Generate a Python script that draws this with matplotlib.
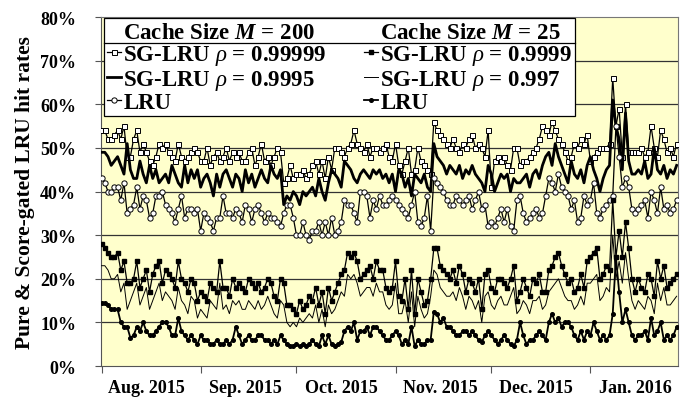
import numpy as np
import pandas as pd
import matplotlib
matplotlib.use('Agg')
import matplotlib.pyplot as plt
import matplotlib.dates as mdates
from matplotlib.lines import Line2D


START_DATE = '2015-08-01'

# Cache size M = 200 (values in %)
sg_200_99999 = [
    54, 54, 52, 52, 53, 54, 52, 55, 48, 48,
    52, 54, 49, 51, 49, 47, 46, 48, 51, 50,
    51, 49, 48, 47, 51, 48, 47, 48, 49, 50,
    49, 47, 47, 50, 46, 48, 49, 47, 48, 50,
    47, 49, 48, 49, 47, 47, 49, 50, 46, 48,
    51, 47, 48, 46, 48, 50, 49, 42, 43, 46,
    43, 44, 44, 45, 43, 44, 46, 47, 44, 47,
    43, 48, 45, 50, 50, 49, 48, 50, 51, 54,
    51, 50, 49, 51, 48, 50, 50, 49, 50, 51,
    48, 47, 51, 46, 44, 47, 50, 44, 45, 50,
    47, 46, 45, 44, 56, 54, 53, 52, 51, 50,
    52, 50, 49, 51, 50, 52, 53, 50, 51, 50,
    48, 54, 41, 47, 48, 47, 48, 46, 45, 50,
    50, 46, 47, 47, 48, 49, 50, 52, 55, 54,
    53, 56, 54, 52, 51, 49, 47, 48, 51, 50,
    52, 51, 53, 47, 48, 49, 50, 50, 50, 51,
    66, 55, 59, 48, 60, 49, 49, 49, 49, 50,
    48, 49, 55, 50, 48, 54, 52, 49, 50, 48, 51]
sg_200_9995 = [
    49, 49, 48, 46, 47, 48, 46, 44, 51, 45,
    43, 43, 47, 44, 42, 46, 43, 45, 42, 43,
    44, 42, 46, 44, 42, 41, 46, 42, 45, 43,
    45, 41, 43, 44, 42, 39, 44, 41, 44, 45,
    43, 41, 44, 43, 40, 45, 42, 44, 41, 43,
    45, 43, 42, 46, 44, 43, 45, 37, 39, 38,
    40, 39, 37, 40, 39, 40, 41, 39, 43, 40,
    38, 42, 45, 44, 43, 41, 47, 46, 45, 43,
    42, 44, 45, 44, 43, 45, 44, 45, 43, 44,
    42, 44, 40, 45, 44, 41, 43, 39, 44, 43,
    42, 44, 41, 40, 51, 48, 47, 46, 44, 46,
    45, 44, 46, 43, 45, 44, 46, 44, 43, 42,
    40, 46, 44, 40, 42, 44, 43, 44, 40, 43,
    42, 42, 43, 44, 41, 44, 45, 43, 46, 48,
    49, 46, 51, 48, 46, 44, 42, 47, 44, 43,
    45, 42, 46, 48, 45, 43, 40, 43, 45, 46,
    61, 55, 52, 45, 58, 47, 44, 44, 45, 44,
    47, 43, 44, 50, 45, 44, 46, 43, 45, 44, 46]
lru_200 = [
    43, 42, 40, 40, 41, 41, 38, 42, 35, 36,
    37, 41, 36, 39, 38, 34, 35, 39, 39, 40,
    37, 36, 35, 33, 36, 39, 34, 36, 36, 35,
    36, 31, 35, 34, 33, 31, 34, 34, 39, 35,
    35, 34, 36, 35, 33, 37, 36, 33, 36, 37,
    35, 33, 35, 34, 34, 33, 32, 35, 37, 37,
    34, 30, 30, 33, 30, 29, 31, 31, 33, 30,
    33, 30, 34, 30, 31, 33, 38, 37, 37, 35,
    33, 40, 40, 39, 34, 38, 36, 39, 37, 37,
    38, 39, 38, 37, 36, 35, 34, 37, 40, 33,
    32, 34, 39, 31, 43, 42, 41, 40, 38, 37,
    37, 39, 38, 37, 38, 39, 36, 38, 40, 36,
    37, 32, 33, 32, 34, 36, 33, 36, 32, 31,
    38, 39, 35, 33, 34, 35, 36, 34, 35, 39,
    43, 42, 40, 44, 41, 40, 39, 36, 38, 33,
    34, 39, 37, 38, 42, 35, 34, 36, 37, 38,
    39, 55, 48, 41, 43, 41, 36, 35, 36, 37,
    38, 34, 40, 38, 35, 41, 36, 37, 35, 36, 38]

# Cache size M = 25 (values in %)
sg_25_9999 = [
    28, 27, 26, 25, 25, 26, 22, 24, 19, 19,
    20, 24, 18, 20, 22, 17, 21, 23, 24, 19,
    22, 21, 20, 18, 24, 20, 19, 17, 20, 19,
    15, 17, 16, 15, 19, 18, 17, 24, 18, 18,
    16, 20, 18, 19, 18, 17, 20, 19, 18, 19,
    17, 18, 20, 19, 16, 15, 20, 19, 14, 14,
    13, 12, 15, 13, 14, 16, 15, 18, 14, 17,
    12, 18, 15, 17, 19, 21, 22, 26, 25, 26,
    24, 20, 21, 22, 23, 20, 24, 22, 22, 18,
    17, 18, 24, 16, 15, 20, 13, 22, 12, 20,
    17, 14, 15, 20, 27, 27, 23, 22, 21, 20,
    22, 19, 23, 21, 17, 20, 19, 17, 20, 13,
    21, 22, 18, 17, 20, 20, 19, 18, 20, 23,
    15, 17, 20, 18, 16, 20, 19, 21, 17, 17,
    22, 23, 25, 26, 23, 21, 19, 20, 17, 18,
    21, 18, 24, 25, 26, 27, 20, 21, 23, 22,
    38, 25, 31, 25, 33, 27, 20, 17, 20, 18,
    17, 21, 20, 16, 24, 20, 23, 18, 19, 20, 21]
sg_25_997 = [
    23, 23, 22, 20, 20, 21, 17, 19, 13, 15,
    17, 19, 14, 16, 18, 13, 15, 17, 19, 15,
    17, 16, 15, 13, 18, 15, 14, 12, 16, 15,
    11, 13, 12, 11, 15, 14, 13, 19, 13, 14,
    12, 15, 14, 15, 13, 13, 15, 14, 13, 15,
    13, 14, 16, 14, 12, 11, 15, 14, 10, 9,
    10, 9, 11, 10, 11, 12, 11, 14, 10, 13,
    9, 14, 12, 13, 15, 17, 16, 21, 20, 21,
    19, 16, 17, 18, 18, 16, 19, 17, 17, 14,
    13, 14, 19, 12, 12, 15, 10, 17, 9, 16,
    13, 11, 12, 16, 22, 21, 18, 17, 16, 16,
    17, 15, 18, 16, 13, 16, 15, 13, 15, 10,
    16, 17, 14, 13, 15, 16, 14, 14, 16, 18,
    12, 13, 15, 14, 12, 15, 15, 16, 13, 14,
    17, 18, 19, 20, 18, 16, 15, 15, 13, 14,
    16, 14, 19, 19, 20, 21, 15, 16, 18, 17,
    30, 20, 24, 19, 26, 20, 15, 13, 15, 14,
    13, 16, 15, 12, 19, 15, 18, 14, 14, 15, 16]
lru_25 = [
    14.5, 14.5, 14, 13, 13, 13, 10, 9, 9, 6.5,
    7, 9, 8, 10, 8, 7, 7, 8, 9, 10,
    10, 9, 7, 7, 11, 8, 7, 6, 7, 6,
    5, 7, 6, 6, 5, 5, 6, 5, 5, 6,
    5, 6, 9, 7, 5, 6, 7, 6, 6, 7,
    7, 6, 6, 5, 6, 5, 7, 6, 5, 4.5,
    4.5, 5, 4.5, 5, 4.5, 5, 6, 5, 4.5, 7,
    5, 7, 5, 4.5, 5, 5.5, 8, 9, 8, 10,
    6, 8, 8, 9, 7, 9, 9, 8, 7, 6,
    6, 7, 8, 7, 5, 6, 5, 9, 4.5, 6,
    5, 5, 6, 6, 12.5, 12, 10, 11, 9, 9,
    8, 7, 7, 8, 8, 7, 8, 7, 6, 5.5,
    7, 8, 7, 6, 5, 6, 7, 6, 5, 4.5,
    6, 10, 7, 5, 6, 6, 7, 8, 7, 6,
    10, 12, 10, 11, 9, 10, 10, 9, 7, 6,
    8, 6, 8, 7, 10, 8, 6, 7, 6, 7,
    12, 25, 17, 10, 13, 10, 7, 6, 7, 7,
    8, 6, 11, 7, 8, 10, 6, 7, 6, 7, 9]

plt.rcParams.update({'font.family': 'Liberation Serif',
                     'font.weight': 'bold',
                     'axes.labelweight': 'bold',
                     'mathtext.fontset': 'custom',
                     'mathtext.rm': 'Liberation Serif:bold',
                     'mathtext.it': 'Liberation Serif:italic:normal',
                     'mathtext.bf': 'Liberation Serif:bold',
                     'mathtext.bfit': 'Liberation Serif:italic:bold'})

dates = pd.date_range(START_DATE, periods=len(sg_200_99999), freq='D')

fig = plt.figure(figsize=(6.83, 4.02), dpi=100)
ax = fig.add_axes([0.148, 0.087, 0.845, 0.868])
ax.set_facecolor('#FFFFCC')

for y in range(10, 80, 10):
    ax.axhline(y, color='#333333', lw=0.9, zorder=1)

ax.plot(dates, sg_200_99999, color='black', lw=0.9, marker='s', ms=3.6,
        mfc='white', mec='black', mew=0.7, zorder=3)
ax.plot(dates, sg_200_9995, color='black', lw=2.0, zorder=3)
ax.plot(dates, lru_200, color='black', lw=0.9, marker='o', ms=3.8,
        mfc='white', mec='black', mew=0.7, zorder=3)
ax.plot(dates, sg_25_9999, color='black', lw=0.9, marker='s', ms=3.4,
        zorder=3)
ax.plot(dates, sg_25_997, color='black', lw=0.7, zorder=3)
ax.plot(dates, lru_25, color='black', lw=1.3, marker='o', ms=2.6,
        zorder=3)

ax.set_ylim(0, 80)
ax.set_yticks(range(0, 81, 10))
ax.set_yticklabels([f'{v}%' for v in range(0, 81, 10)])
ax.set_xlim(dates[0] - pd.Timedelta(hours=4), dates[-1] + pd.Timedelta(hours=12))

ax.xaxis.set_major_locator(mdates.MonthLocator())
ax.xaxis.set_major_formatter(plt.NullFormatter())
ax.xaxis.set_minor_locator(mdates.MonthLocator(bymonthday=15))
ax.xaxis.set_minor_formatter(mdates.DateFormatter('%b. %Y'))
ax.tick_params(axis='x', which='major', length=5, color='#555555', direction='out')
ax.tick_params(axis='x', which='minor', length=0, labelsize=13, pad=9)
ax.tick_params(axis='y', length=4, color='#555555', labelsize=13, pad=14)
for s in ax.spines.values():
    s.set_color('#777777')
ax.spines['left'].set_color('#555555')
ax.spines['bottom'].set_color('#555555')

ax.set_ylabel('Pure & Score-gated LRU hit rates', fontsize=15.5, labelpad=4)

blank = Line2D([], [], color='none')
handles = [
    blank,
    Line2D([], [], color='black', lw=0.9, marker='s', ms=3.6, mfc='white', mew=0.7),
    Line2D([], [], color='black', lw=2.0),
    Line2D([], [], color='black', lw=0.9, marker='o', ms=3.8, mfc='white', mew=0.7),
    blank,
    Line2D([], [], color='black', lw=0.9, marker='s', ms=3.4),
    Line2D([], [], color='black', lw=0.7),
    Line2D([], [], color='black', lw=1.3, marker='o', ms=2.6),
]
labels = [
    r'Cache Size $\mathbfit{M}$ = 200',
    r'SG-LRU $\rho$ = 0.99999',
    r'SG-LRU $\rho$ = 0.9995',
    'LRU',
    r'Cache Size $\mathbfit{M}$ = 25',
    r'SG-LRU $\rho$ = 0.9999',
    r'SG-LRU $\rho$ = 0.997',
    'LRU',
]
leg = ax.legend(handles, labels, ncol=2, loc='upper left', mode='expand',
                bbox_to_anchor=(0.005, 0.0, 0.817, 0.997), fontsize=16.5,
                frameon=True, fancybox=False, edgecolor='black', framealpha=1,
                handlelength=0.6, handletextpad=0.1, columnspacing=0.6,
                labelspacing=0.02, borderpad=0.15, borderaxespad=0.0)
leg.get_frame().set_linewidth(0.9)
leg.set_zorder(5)

# divider line under the header row of the legend
fig.canvas.draw()
inv = ax.transAxes.inverted()
frame_bb = leg.get_frame().get_window_extent()
head_bb = leg.get_texts()[0].get_window_extent()
row_bb = leg.get_texts()[1].get_window_extent()
y_line = (head_bb.y0 + row_bb.y1) / 2
x0, y0 = inv.transform((frame_bb.x0, y_line))
x1, _ = inv.transform((frame_bb.x1, y_line))
ax.plot([x0, x1], [y0, y0], transform=ax.transAxes, color='black', lw=0.9,
        zorder=6, clip_on=False)

fig.savefig('out.png', dpi=100)
